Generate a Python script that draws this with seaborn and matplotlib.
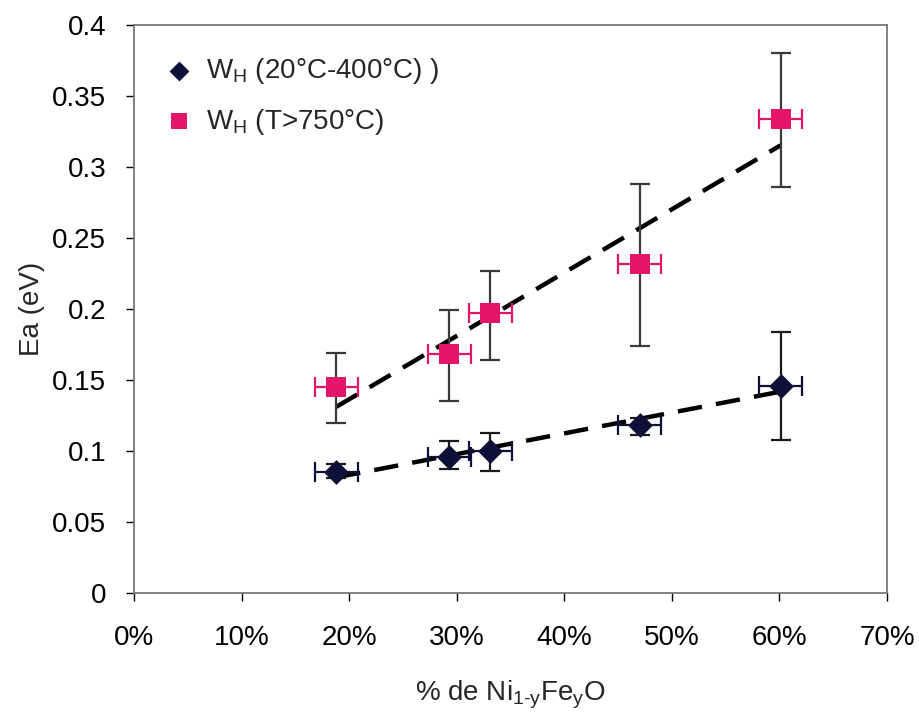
import numpy as np
import pandas as pd
import matplotlib
matplotlib.use("Agg")
import matplotlib.pyplot as plt
import seaborn as sns
from matplotlib.ticker import FuncFormatter

# ---- data ----
x_pct = [18.8, 29.3, 33.1, 47.0, 60.1]
wh_low = [0.085, 0.096, 0.100, 0.118, 0.146]          # W_H (20°C-400°C)
wh_low_err_up = [0.006, 0.011, 0.013, 0.005, 0.038]
wh_low_err_dn = [0.004, 0.009, 0.014, 0.007, 0.038]
wh_high = [0.145, 0.168, 0.197, 0.232, 0.334]         # W_H (T>750°C)
wh_high_err_up = [0.024, 0.031, 0.030, 0.056, 0.046]
wh_high_err_dn = [0.025, 0.033, 0.033, 0.058, 0.048]
x_err = [2.0, 2.0, 2.0, 2.0, 2.0]
legend_labels = [r"W$_\mathrm{H}$ (20°C-400°C) )", r"W$_\mathrm{H}$ (T>750°C)"]
x_ticks = [0, 10, 20, 30, 40, 50, 60, 70]
y_ticks = [0, 0.05, 0.1, 0.15, 0.2, 0.25, 0.3, 0.35, 0.4]

navy = "#0f1038"
pink = "#e2156a"
FS = 20

sns.set_theme(style="white")
plt.rcParams["font.family"] = ["Liberation Sans", "DejaVu Sans"]
plt.rcParams["mathtext.fontset"] = "custom"
plt.rcParams["mathtext.rm"] = "Liberation Sans"
plt.rcParams["mathtext.it"] = "Liberation Sans:italic"
plt.rcParams["mathtext.default"] = "regular"

fig = plt.figure(figsize=(9.19, 7.13), dpi=100)
ax = fig.add_axes([0.1458, 0.1683, 0.8194, 0.7966])

df_low = pd.DataFrame({"x": x_pct, "y": wh_low})
df_high = pd.DataFrame({"x": x_pct, "y": wh_high})

# trendlines (linear fits)
line_kws = dict(color="black", lw=3.2, dashes=(5.5, 3.2), zorder=2)
sns.regplot(data=df_high, x="x", y="y", scatter=False, ci=None, truncate=True,
            line_kws=line_kws, ax=ax)
sns.regplot(data=df_low, x="x", y="y", scatter=False, ci=None, truncate=True,
            line_kws=line_kws, ax=ax)

# error bars
ax.errorbar(x_pct, wh_high, yerr=[wh_high_err_dn, wh_high_err_up], fmt="none",
            ecolor="#3a3a3a", elinewidth=1.6, capsize=7, capthick=1.6, zorder=3)
ax.errorbar(x_pct, wh_high, xerr=x_err, fmt="none",
            ecolor=pink, elinewidth=1.6, capsize=7, capthick=1.6, zorder=3)
ax.errorbar(x_pct, wh_low, yerr=[wh_low_err_dn, wh_low_err_up], fmt="none",
            ecolor="#1a1a1a", elinewidth=1.6, capsize=7, capthick=1.6, zorder=3)
ax.errorbar(x_pct, wh_low, xerr=x_err, fmt="none",
            ecolor=navy, elinewidth=1.6, capsize=7, capthick=1.6, zorder=3)

# markers
sns.scatterplot(data=df_low, x="x", y="y", marker="D", s=160, color=navy,
                edgecolor=navy, linewidth=0, ax=ax, zorder=4, label=legend_labels[0])
sns.scatterplot(data=df_high, x="x", y="y", marker="s", s=190, color=pink,
                edgecolor=pink, linewidth=0, ax=ax, zorder=4, label=legend_labels[1])

ax.set_xlim(0, 70)
ax.set_ylim(0, 0.4)
ax.set_xticks(x_ticks)
ax.set_yticks(y_ticks)
ax.xaxis.set_major_formatter(FuncFormatter(lambda v, p: f"{int(round(v))}%"))
ax.yaxis.set_major_formatter(FuncFormatter(lambda v, p: f"{v:g}"))
ax.tick_params(axis="both", labelsize=FS, length=6, width=1,
               direction="out", bottom=True, left=True, colors="black")
ax.tick_params(axis="x", pad=17)
ax.tick_params(axis="y", pad=14)
for t in ax.get_xticklines() + ax.get_yticklines():
    t.set_color("#999999")

for s in ax.spines.values():
    s.set_color("#777777")
    s.set_linewidth(1.3)

ax.set_xlabel(r"% de Ni$_{1\text{-}y}$Fe$_y$O", fontsize=FS, labelpad=20)
ax.set_ylabel("Ea (eV)", fontsize=FS, labelpad=5)

leg = ax.legend(loc="upper left", bbox_to_anchor=(0.015, 0.98), frameon=False,
                fontsize=FS, handlelength=1.0, handletextpad=0.5, labelspacing=0.75,
                markerscale=0.8, borderaxespad=0.3)

fig.savefig("out.png", dpi=100)
